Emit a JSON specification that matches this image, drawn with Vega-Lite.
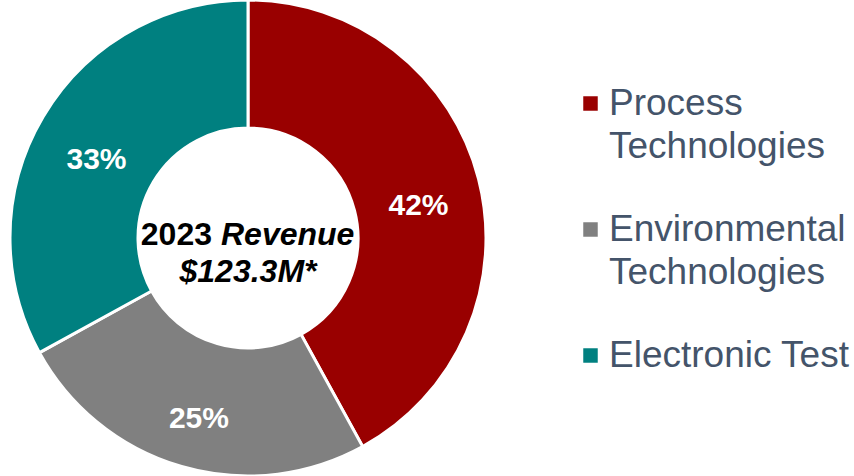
{
  "$schema": "https://vega.github.io/schema/vega-lite/v6.json",
  "width": 496,
  "height": 476,
  "padding": {"left": 0, "top": 0, "right": 358, "bottom": 0},
  "autosize": {"type": "none"},
  "background": "white",
  "config": {"view": {"stroke": null}, "font": "Liberation Sans", "style": {"guide-label": {"lineHeight": 43}}},
  "layer": [
    {
      "data": {"values": [
        {"segment": "Process Technologies", "share": 42, "label": "42%", "idx": 1},
        {"segment": "Environmental Technologies", "share": 25, "label": "25%", "idx": 2},
        {"segment": "Electronic Test", "share": 33, "label": "33%", "idx": 3}
      ]},
      "encoding": {
        "theta": {"field": "share", "type": "quantitative", "stack": true},
        "order": {"field": "idx", "type": "quantitative"}
      },
      "layer": [
        {
          "mark": {"type": "arc", "outerRadius": 238, "innerRadius": 110, "stroke": "white", "strokeWidth": 3},
          "encoding": {
            "color": {
              "field": "segment",
              "type": "nominal",
              "scale": {
                "domain": ["Process Technologies", "Environmental Technologies", "Electronic Test"],
                "range": ["#990000", "#808080", "#008080"]
              },
              "legend": {
                "orient": "none",
                "legendX": 572,
                "legendY": 85,
                "padding": 0,
                "title": null,
                "symbolType": "square",
                "symbolSize": 210,
                "symbolStrokeWidth": 0,
                "symbolOpacity": 1,
                "labelFontSize": 37,
                "labelFont": "Liberation Sans",
                "labelColor": "#44546A",
                "labelOffset": 0,
                "labelLimit": 400,
                "rowPadding": 45,
                "labelExpr": "datum.label == 'Electronic Test' ? datum.label : split(datum.label, ' ')",
                "encode": {"labels": {"lineHeight": {"value": 43}}}
              }
            }
          }
        },
        {
          "mark": {"type": "text", "radius": 176, "dy": 12, "fontSize": 30, "fontWeight": "bold", "color": "white", "font": "Liberation Sans"},
          "encoding": {"text": {"field": "label", "type": "nominal"}}
        }
      ]
    },
    {
      "data": {"values": [{"t": "2023"}]},
      "mark": {"type": "text", "align": "right", "dx": -36, "dy": -3, "fontSize": 32, "fontWeight": "bold", "color": "black", "font": "Liberation Sans"},
      "encoding": {"text": {"field": "t", "type": "nominal"}}
    },
    {
      "data": {"values": [{"t": "Revenue"}]},
      "mark": {"type": "text", "align": "left", "dx": -27, "dy": -3, "fontSize": 32, "fontWeight": "bold", "fontStyle": "italic", "color": "black", "font": "Liberation Sans"},
      "encoding": {"text": {"field": "t", "type": "nominal"}}
    },
    {
      "data": {"values": [{"t": "$123.3M*"}]},
      "mark": {"type": "text", "align": "center", "dy": 34, "fontSize": 32, "fontWeight": "bold", "fontStyle": "italic", "color": "black", "font": "Liberation Sans"},
      "encoding": {"text": {"field": "t", "type": "nominal"}}
    }
  ]
}
